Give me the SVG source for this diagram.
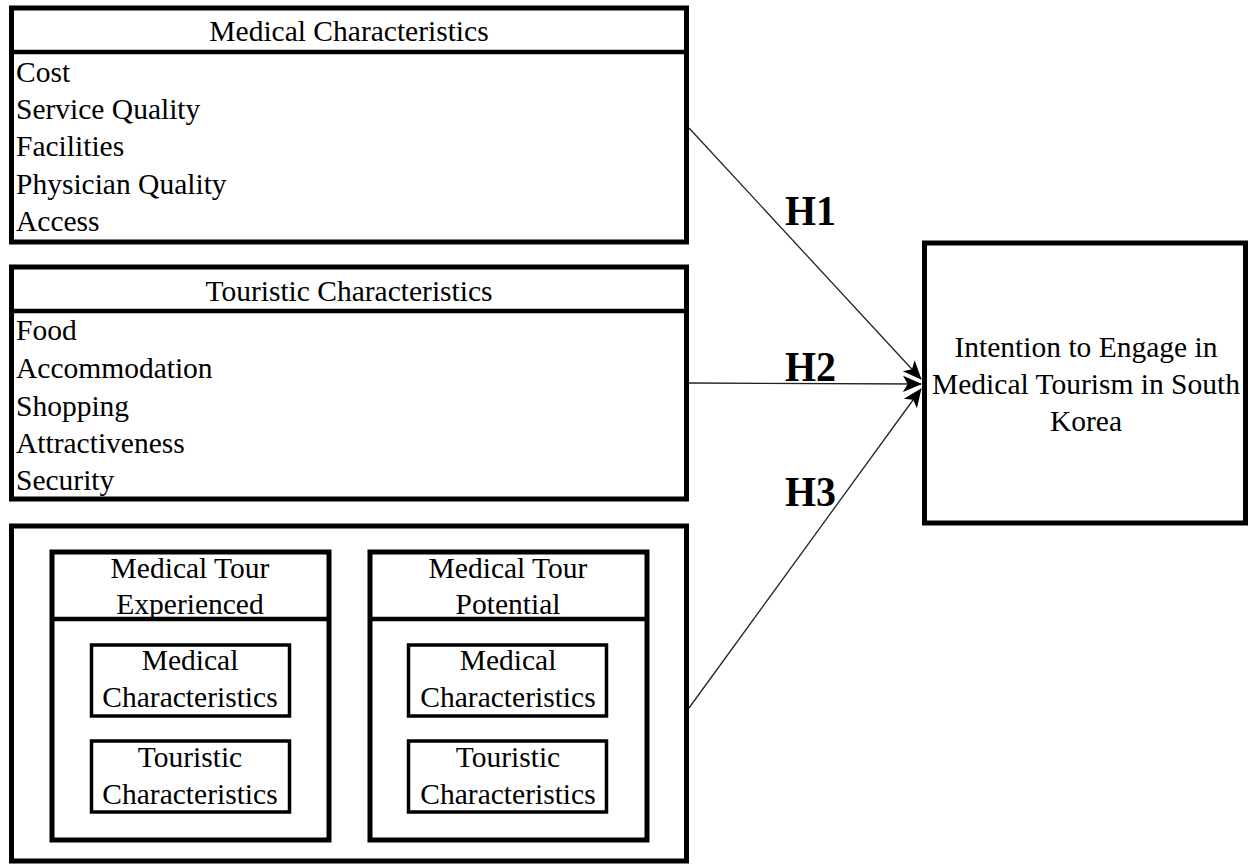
<svg xmlns="http://www.w3.org/2000/svg" width="1250" height="865" viewBox="0 0 1250 865">
<style>
text{font-family:"Liberation Serif","Times New Roman",serif;font-size:29.5px;fill:#000}
.c{text-anchor:middle}
.h{font-weight:bold;font-size:42px}
.box{fill:#fff;stroke:#000;stroke-width:5}
.sub{fill:#fff;stroke:#000;stroke-width:3.5}
.ln{stroke:#000;stroke-width:4.5}
.con{stroke:#222;stroke-width:1.3;fill:none;marker-end:url(#ah)}
</style>
<defs>
<marker id="ah" viewBox="0 0 20 20" refX="19" refY="10" markerWidth="19" markerHeight="19" markerUnits="userSpaceOnUse" orient="auto">
<path d="M0,1.5 L20,10 L0,18.5 L5,10 Z" fill="#000"/>
</marker>
</defs>
<rect width="1250" height="865" fill="#fff"/>
<g id="medical">
<rect class="box" x="11.5" y="8" width="675" height="234"/>
<line class="ln" x1="11" y1="52" x2="687" y2="52"/>
<text class="c" x="349" y="41">Medical Characteristics</text>
<text x="16" y="82">Cost</text>
<text x="16" y="119">Service Quality</text>
<text x="16" y="156">Facilities</text>
<text x="16" y="194">Physician Quality</text>
<text x="16" y="231">Access</text>
</g>
<g id="touristic">
<rect class="box" x="11.5" y="267" width="675" height="232"/>
<line class="ln" x1="11" y1="311" x2="687" y2="311"/>
<text class="c" x="349" y="301">Touristic Characteristics</text>
<text x="16" y="340">Food</text>
<text x="16" y="378">Accommodation</text>
<text x="16" y="416">Shopping</text>
<text x="16" y="453">Attractiveness</text>
<text x="16" y="490">Security</text>
</g>
<g id="groups">
<rect class="box" x="11.5" y="526" width="675" height="335"/>
<g id="experienced">
<rect class="box" x="52" y="552" width="277" height="288"/>
<line class="ln" x1="52" y1="619" x2="329" y2="619"/>
<text class="c" x="190" y="578">Medical Tour</text>
<text class="c" x="190" y="614">Experienced</text>
<g id="exp-med">
<rect class="sub" x="91.5" y="645" width="198" height="71"/>
<text class="c" x="190" y="670">Medical</text>
<text class="c" x="190" y="707">Characteristics</text>
</g>
<g id="exp-tour">
<rect class="sub" x="91.5" y="741" width="198" height="71"/>
<text class="c" x="190" y="767">Touristic</text>
<text class="c" x="190" y="804">Characteristics</text>
</g>
</g>
<g id="potential">
<rect class="box" x="370" y="552" width="277" height="288"/>
<line class="ln" x1="370" y1="619" x2="647" y2="619"/>
<text class="c" x="508" y="578">Medical Tour</text>
<text class="c" x="508" y="614">Potential</text>
<g id="pot-med">
<rect class="sub" x="408.5" y="645" width="198" height="71"/>
<text class="c" x="508" y="670">Medical</text>
<text class="c" x="508" y="707">Characteristics</text>
</g>
<g id="pot-tour">
<rect class="sub" x="408.5" y="741" width="198" height="71"/>
<text class="c" x="508" y="767">Touristic</text>
<text class="c" x="508" y="804">Characteristics</text>
</g>
</g>
</g>
<g id="intention">
<rect class="box" x="924.5" y="243" width="321" height="280"/>
<text class="c" x="1086" y="357">Intention to Engage in</text>
<text class="c" x="1086" y="394">Medical Tourism in South</text>
<text class="c" x="1086" y="431">Korea</text>
</g>
<g id="connectors">
<line class="con" x1="689" y1="128" x2="921" y2="379"/>
<line class="con" x1="689" y1="383" x2="921" y2="384"/>
<line class="con" x1="689" y1="708" x2="921" y2="389"/>
</g>
<g id="labels">
<text class="h" x="785" y="225" textLength="51" lengthAdjust="spacingAndGlyphs">H1</text>
<text class="h" x="785" y="381" textLength="51" lengthAdjust="spacingAndGlyphs">H2</text>
<text class="h" x="785" y="506" textLength="51" lengthAdjust="spacingAndGlyphs">H3</text>
</g>
</svg>
